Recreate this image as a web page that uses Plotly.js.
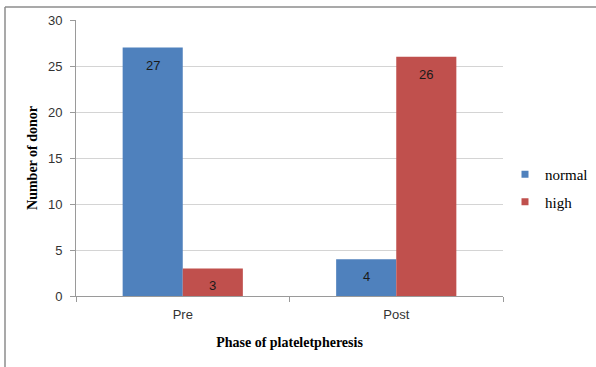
<!DOCTYPE html>
<html>
<head>
<meta charset="utf-8">
<script src="https://cdn.plot.ly/plotly-3.0.1.min.js"></script>
<style>
  html, body { margin: 0; padding: 0; background: #fff; }
  #chart { width: 596px; height: 367px; }
</style>
</head>
<body>
<div id="chart"></div>
<script>
// Donor counts by platelet-count class, before and after plateletpheresis
const phases = ['Pre', 'Post'];
const normalCounts = [27, 4];
const highCounts = [3, 26];
const seriesNames = ['normal', 'high'];
const seriesColors = ['#4F81BD', '#C0504D'];

const serif = 'Liberation Serif, Times New Roman, serif';
const sans = 'Liberation Sans, Arial, sans-serif';

const series = [normalCounts, highCounts];

const traces = [];
series.forEach((vals, i) => {
  traces.push({
    type: 'bar',
    name: seriesNames[i],
    x: phases,
    y: vals,
    marker: { color: seriesColors[i], line: { width: 0 } },
    showlegend: false,
    hoverinfo: 'x+y+name'
  });
});
// small square legend keys
series.forEach((vals, i) => {
  traces.push({
    type: 'scatter',
    mode: 'markers',
    name: seriesNames[i],
    legendgroup: 'g' + i,
    x: [null],
    y: [null],
    marker: { symbol: 'square', size: 7, color: seriesColors[i] },
    showlegend: true
  });
});

// value labels just inside the top of each bar
const annotations = [];
series.forEach((vals, i) => {
  vals.forEach((v, j) => {
    annotations.push({
      x: phases[j], y: v, xref: 'x', yref: 'y',
      text: String(v), showarrow: false,
      xshift: i === 0 ? -30 : 30,
      yanchor: 'top', yshift: -8,
      font: { family: sans, size: 13, color: '#1a1a1a' }
    });
  });
});

const layout = {
  width: 596,
  height: 367,
  margin: { l: 76, r: 93, t: 20, b: 71 },
  paper_bgcolor: '#ffffff',
  plot_bgcolor: '#ffffff',
  barmode: 'group',
  bargap: 0.437,
  bargroupgap: 0,
  showlegend: true,
  legend: {
    xref: 'container', yref: 'container',
    x: 505 / 596, xanchor: 'left',
    y: 1 - 188 / 367, yanchor: 'middle',
    font: { family: serif, size: 15, color: '#000' },
    itemwidth: 30,
    traceorder: 'grouped',
    tracegroupgap: 5,
    bgcolor: 'rgba(0,0,0,0)'
  },
  xaxis: {
    type: 'category',
    showline: true, linecolor: '#9a9a9a', linewidth: 1,
    ticks: 'outside', tickson: 'boundaries', ticklen: 5, tickcolor: '#9a9a9a',
    ticklabelstandoff: 6,
    tickfont: { family: sans, size: 13, color: '#333' },
    showgrid: false,
    title: {
      text: 'Phase of plateletpheresis',
      font: { family: serif, size: 14, color: '#000', weight: 'bold' },
      standoff: 16
    }
  },
  yaxis: {
    range: [0, 30],
    dtick: 5,
    showline: true, linecolor: '#9a9a9a', linewidth: 1,
    ticks: 'outside', ticklen: 5, tickcolor: '#9a9a9a',
    ticklabelstandoff: 5,
    tickfont: { family: sans, size: 13, color: '#333' },
    showgrid: true, gridcolor: '#d4d4d4', gridwidth: 1,
    zeroline: false,
    title: {
      text: 'Number of donor',
      font: { family: serif, size: 14, color: '#000', weight: 'bold' },
      standoff: 7
    }
  },
  annotations: annotations,
  shapes: [
    // outer chart frame (top and left edges)
    { type: 'line', xref: 'paper', yref: 'paper',
      x0: (5 - 76) / 427, x1: (600 - 76) / 427,
      y0: (296 - 7) / 276, y1: (296 - 7) / 276,
      line: { color: '#8c8c8c', width: 1.5 } },
    { type: 'line', xref: 'paper', yref: 'paper',
      x0: (5 - 76) / 427, x1: (5 - 76) / 427,
      y0: (296 - 7) / 276, y1: (296 - 370) / 276,
      line: { color: '#8c8c8c', width: 1.5 } }
  ]
};

Plotly.newPlot('chart', traces, layout, { displayModeBar: false, staticPlot: true });
</script>
</body>
</html>
